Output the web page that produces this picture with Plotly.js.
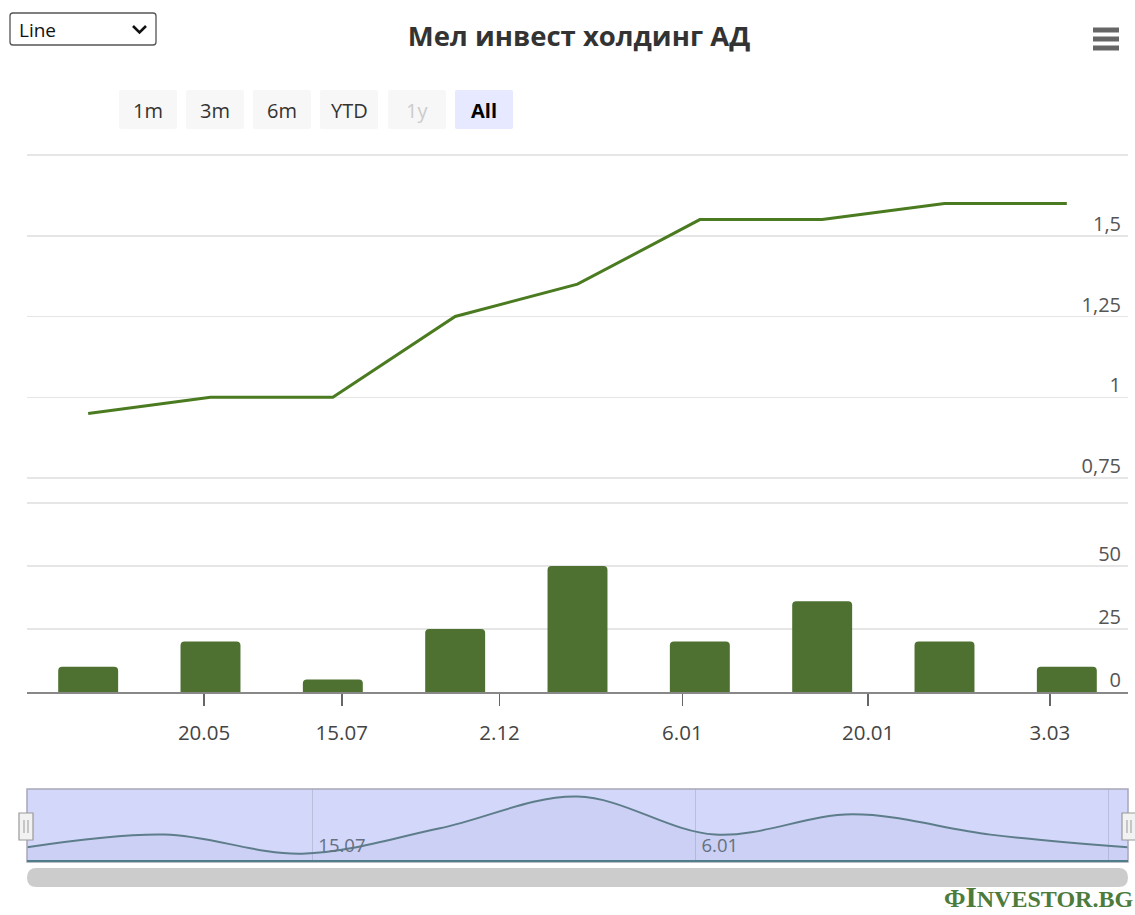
<!DOCTYPE html>
<html>
<head>
<meta charset="utf-8">
<script src="https://cdn.plot.ly/plotly-3.0.1.min.js"></script>
<style>
  html, body { margin: 0; padding: 0; background: #ffffff; }
  #chart { width: 1135px; height: 915px; }
</style>
</head>
<body>
<div id="chart"></div>
<script>
// ---------------- data ----------------
const sessions = [0, 1, 2, 3, 4, 5, 6, 7, 8];            // ordinal trading sessions
const price = [0.95, 1.0, 1.0, 1.25, 1.35, 1.55, 1.55, 1.6, 1.6];
const volume = [10, 20, 5, 25, 50, 20, 36, 20, 10];

const dateTickPos = [0.947, 2.073, 3.363, 4.857, 6.376, 7.861];
const dateTickLabels = ['20.05', '15.07', '2.12', '6.01', '20.01', '3.03'];
const navTickPos = [2.073, 4.857, 7.861];
const navTickLabels = ['15.07', '6.01', ''];

const priceTicks = [0.75, 1, 1.25, 1.5, 1.75];
const priceTickLabels = ['0,75', '1', '1,25', '1,5', ''];
const volumeTicks = [0, 25, 50, 75];
const volumeTickLabels = ['0', '25', '50', ''];

const chartTitle = 'Мел инвест холдинг АД';
const rangeButtons = ['1m', '3m', '6m', 'YTD', '1y', 'All'];
const chartTypeLabel = 'Line';
const brandText = 'INVESTOR.BG';

// ---------------- geometry helpers ----------------
const W = 1135, H = 915;
const px = x => x / W;
const py = y => 1 - y / H;
const FONT = '"Open Sans", "Noto Sans", sans-serif';

const plotL = 27, plotR = 1128;

function roundRectPath(x0, y0, x1, y1, r) {
  const P = (x, y) => px(x) + ',' + py(y);
  return 'M' + P(x0 + r, y0) + ' L' + P(x1 - r, y0) + ' Q' + P(x1, y0) + ' ' + P(x1, y0 + r) +
    ' L' + P(x1, y1 - r) + ' Q' + P(x1, y1) + ' ' + P(x1 - r, y1) +
    ' L' + P(x0 + r, y1) + ' Q' + P(x0, y1) + ' ' + P(x0, y1 - r) +
    ' L' + P(x0, y0 + r) + ' Q' + P(x0, y0) + ' ' + P(x0 + r, y0) + ' Z';
}

// ---------------- traces ----------------
const traces = [
  {
    x: sessions, y: price, xaxis: 'x', yaxis: 'y', type: 'scatter', mode: 'lines',
    line: { color: '#4b7b20', width: 3 }, hoverinfo: 'skip'
  },
  {
    x: sessions, y: volume, xaxis: 'x2', yaxis: 'y2', type: 'bar',
    width: 0.49, marker: { color: '#4e7131', cornerradius: 4, line: { width: 0 } }, hoverinfo: 'skip'
  },
  {
    x: sessions, y: volume, xaxis: 'x3', yaxis: 'y3', type: 'scatter', mode: 'lines',
    line: { color: '#5e7d8a', width: 2, shape: 'spline', smoothing: 1 },
    fill: 'tozeroy', fillcolor: 'rgba(90,110,160,0.06)', hoverinfo: 'skip'
  }
];

// ---------------- shapes ----------------
const shapes = [];
// navigator background (selection mask covers full range)
shapes.push({ type: 'rect', xref: 'paper', yref: 'paper', layer: 'below',
  x0: px(plotL), x1: px(plotR), y0: py(862), y1: py(789),
  fillcolor: '#d3d7fa', line: { width: 0 } });
// navigator outline
shapes.push({ type: 'rect', xref: 'paper', yref: 'paper', layer: 'above',
  x0: px(plotL), x1: px(plotR), y0: py(862), y1: py(789),
  fillcolor: 'rgba(0,0,0,0)', line: { color: '#a8a8b8', width: 1.5 } });
// navigator baseline
shapes.push({ type: 'line', xref: 'paper', yref: 'paper', layer: 'above',
  x0: px(plotL), x1: px(plotR), y0: py(861), y1: py(861),
  line: { color: '#4f7d88', width: 2 } });
// navigator handles
[plotL - 1, plotR + 1].forEach(cx => {
  shapes.push({ type: 'rect', xref: 'paper', yref: 'paper', layer: 'above',
    x0: px(cx - 7), x1: px(cx + 7), y0: py(840), y1: py(813),
    fillcolor: '#f2f2f2', line: { color: '#999999', width: 1.2 } });
  [cx - 2, cx + 2].forEach(lx => shapes.push({ type: 'line', xref: 'paper', yref: 'paper', layer: 'above',
    x0: px(lx), x1: px(lx), y0: py(820), y1: py(833), line: { color: '#999999', width: 1 } }));
});
// scrollbar
shapes.push({ type: 'path', xref: 'paper', yref: 'paper', layer: 'above',
  path: roundRectPath(plotL, 868, plotR, 887, 9.5), fillcolor: '#cccccc', line: { width: 0 } });

// dropdown box
shapes.push({ type: 'path', xref: 'paper', yref: 'paper', layer: 'above',
  path: roundRectPath(10, 13, 156, 45, 3), fillcolor: '#ffffff', line: { color: '#555555', width: 1.3 } });
// chevron
shapes.push({ type: 'path', xref: 'paper', yref: 'paper', layer: 'above',
  path: 'M' + px(133) + ',' + py(26) + ' L' + px(139.5) + ',' + py(32.5) + ' L' + px(146) + ',' + py(26),
  line: { color: '#111111', width: 2.6 } });

// range selector buttons
const btnX = [119, 186, 253, 320, 388, 455];
const btnW = 58;
rangeButtons.forEach((b, i) => {
  const sel = b === 'All';
  shapes.push({ type: 'path', xref: 'paper', yref: 'paper', layer: 'above',
    path: roundRectPath(btnX[i], 90, btnX[i] + btnW, 129, 2),
    fillcolor: sel ? '#e6e9ff' : '#f7f7f7', line: { width: 0 } });
});

// hamburger menu
[30, 39, 48].forEach(yy => shapes.push({ type: 'line', xref: 'paper', yref: 'paper', layer: 'above',
  x0: px(1093), x1: px(1119), y0: py(yy), y1: py(yy), line: { color: '#666666', width: 5 } }));

// ---------------- annotations ----------------
const annotations = [];
annotations.push({ xref: 'paper', yref: 'paper', x: px(17), y: py(30), xanchor: 'left', yanchor: 'middle',
  text: chartTypeLabel, showarrow: false, font: { family: FONT, size: 19, color: '#111111' } });
rangeButtons.forEach((b, i) => {
  const sel = b === 'All';
  const dis = b === '1y';
  annotations.push({ xref: 'paper', yref: 'paper', x: px(btnX[i] + btnW / 2), y: py(110),
    xanchor: 'center', yanchor: 'middle', showarrow: false,
    text: sel ? '<b>' + b + '</b>' : b,
    font: { family: FONT, size: 20, color: sel ? '#000000' : (dis ? '#cccccc' : '#333333') } });
});
annotations.push({ xref: 'paper', yref: 'paper', x: px(1134), y: py(897), xanchor: 'right', yanchor: 'middle',
  showarrow: false, borderpad: 0,
  text: '<b><span style="font-size:25px">Ф</span><span style="font-size:29px">I</span>' + brandText.slice(1) + '</b>',
  font: { family: '"Liberation Serif", serif', size: 24, color: '#4c7b3c' } });

// ---------------- layout ----------------
const gridCol = '#e6e6e6';
const layout = {
  width: W, height: H,
  margin: { l: 0, r: 0, t: 0, b: 0 },
  paper_bgcolor: '#ffffff', plot_bgcolor: 'rgba(0,0,0,0)',
  showlegend: false,
  separators: ', ',
  font: { family: FONT, color: '#444444' },
  title: { text: '<b>' + chartTitle + '</b>', x: px(579), y: py(36), xanchor: 'center', yanchor: 'middle',
    xref: 'paper', yref: 'paper', font: { family: FONT, size: 27.5, color: '#333333' } },
  xaxis: { domain: [px(plotL), px(plotR)], range: [-0.5, 8.5], anchor: 'y',
    showticklabels: false, showgrid: false, zeroline: false, showline: false, fixedrange: true },
  yaxis: { domain: [py(480), py(153)], range: [0.7438, 1.7562], anchor: 'x', side: 'right',
    tickmode: 'array', tickvals: priceTicks, ticktext: priceTickLabels,
    ticklabelposition: 'inside', ticklabelshift: -12, ticklabelstandoff: 4, ticklabeloverflow: 'allow',
    showgrid: true, gridcolor: gridCol, gridwidth: 1.5, zeroline: false, showline: false, ticks: '',
    tickfont: { family: FONT, size: 20, color: '#555555' }, automargin: false, fixedrange: true },
  xaxis2: { domain: [px(plotL), px(plotR)], range: [-0.5, 8.5], anchor: 'y2',
    tickmode: 'array', tickvals: dateTickPos, ticktext: dateTickLabels,
    ticks: 'outside', ticklen: 12, tickwidth: 1.5, tickcolor: '#666666',
    showline: true, linecolor: '#888888', linewidth: 2, showgrid: false, zeroline: false,
    tickfont: { family: FONT, size: 20.5, color: '#444444' }, ticklabelstandoff: 9,
    automargin: false, fixedrange: true },
  yaxis2: { domain: [py(692), py(500)], range: [0, 76.19], anchor: 'x2', side: 'right',
    tickmode: 'array', tickvals: volumeTicks, ticktext: volumeTickLabels,
    ticklabelposition: 'inside', ticklabelshift: -12, ticklabelstandoff: 4, ticklabeloverflow: 'allow',
    showgrid: true, gridcolor: gridCol, gridwidth: 1.5, zeroline: false, showline: false, ticks: '',
    tickfont: { family: FONT, size: 20, color: '#555555' }, automargin: false, fixedrange: true },
  xaxis3: { domain: [px(plotL), px(plotR)], range: [0, 8], anchor: 'y3',
    tickmode: 'array', tickvals: navTickPos, ticktext: navTickLabels,
    ticklabelposition: 'inside right', ticklabelshift: 6, ticks: '',
    showgrid: true, gridcolor: '#b9bedc', gridwidth: 1, zeroline: false, showline: false,
    tickfont: { family: FONT, size: 18.5, color: '#667080' }, automargin: false, fixedrange: true },
  yaxis3: { domain: [py(862), py(789)], range: [-1.6, 56], anchor: 'x3',
    showticklabels: false, showgrid: false, zeroline: false, showline: false, fixedrange: true },
  shapes: shapes,
  annotations: annotations
};

Plotly.newPlot('chart', traces, layout, { displayModeBar: false, staticPlot: true });
</script>
</body>
</html>
